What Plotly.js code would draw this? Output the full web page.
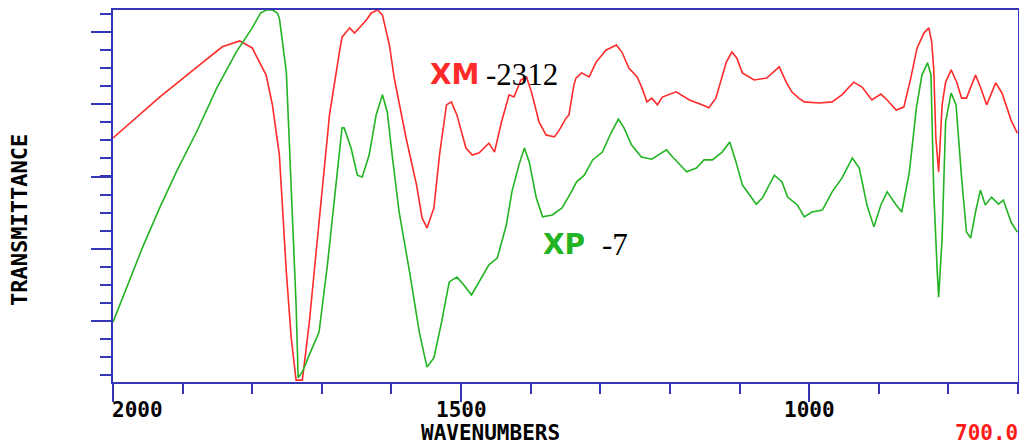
<!DOCTYPE html>
<html>
<head>
<meta charset="utf-8">
<script src="https://cdn.plot.ly/plotly-3.0.1.min.js"></script>
<style>
  html, body { margin: 0; padding: 0; background: #ffffff; }
  #chart { width: 1019px; height: 446px; }
</style>
</head>
<body>
<div id="chart"></div>
<script>
// IR spectra of two samples, wavenumber (cm-1) vs. relative transmittance (%)
const xmWavenumbers = [2000, 1933, 1876, 1843, 1818, 1800, 1780, 1771, 1761, 1757, 1751, 1744, 1737, 1728,
  1718, 1704, 1689, 1675, 1671, 1665, 1660, 1653, 1646, 1636, 1629, 1620, 1613, 1603, 1596, 1579, 1564,
  1556, 1549, 1539, 1531, 1521, 1514, 1506, 1493, 1484, 1474, 1460, 1452, 1442, 1431, 1424, 1414, 1406,
  1399, 1388, 1378, 1366, 1359, 1349, 1345, 1338, 1335, 1327, 1316, 1306, 1292, 1277, 1269, 1259, 1247,
  1240, 1233, 1226, 1218, 1211, 1191, 1172, 1154, 1144, 1134, 1119, 1111, 1104, 1096, 1079, 1061, 1043,
  1033, 1025, 1015, 1007, 986, 967, 953, 936, 924, 910, 897, 888, 875, 864, 854, 845, 835, 828, 824, 821,
  818, 814, 809, 804, 796, 788, 781, 774, 761, 754, 745, 732, 723, 710, 701];
const xmTransmittance = [65.6, 76.6, 85.2, 90.1, 91.7, 89.8, 82.5, 74.5, 61.0, 47.6, 29.6, 11.8, 0.5, 0.5,
  16.1, 43.0, 71.8, 88.4, 92.7, 94.1, 95.2, 93.8, 95.2, 97.3, 99.2, 100, 98.7, 90.6, 81.7, 65.6, 53.0,
  44.1, 41.4, 46.8, 61.0, 74.5, 75.3, 71.8, 62.9, 61.0, 61.6, 64.2, 61.8, 69.9, 77.2, 76.6, 81.2, 82.0,
  78.0, 69.9, 66.4, 65.9, 67.7, 71.0, 71.8, 79.8, 81.7, 83.1, 82.0, 86.0, 89.2, 90.6, 88.7, 84.4, 82.0,
  79.0, 75.3, 76.3, 74.5, 76.6, 78.0, 75.8, 74.5, 73.7, 76.3, 86.0, 88.7, 87.1, 83.1, 81.2, 81.7, 84.7,
  80.6, 78.0, 76.3, 75.3, 75.0, 75.3, 77.2, 80.6, 79.3, 75.8, 77.4, 75.8, 73.1, 73.9, 81.7, 89.8, 93.8,
  95.2, 91.4, 83.9, 65.6, 56.5, 74.5, 80.6, 83.9, 80.6, 76.3, 76.3, 82.5, 79.3, 74.5, 80.4, 77.7, 70.4,
  66.9];

const xpWavenumbers = [2000, 1986, 1958, 1933, 1909, 1880, 1851, 1823, 1800, 1788, 1780, 1771, 1764, 1761,
  1757, 1751, 1747,
  1742, 1737, 1734, 1728, 1718, 1704, 1692, 1679, 1671, 1668, 1658, 1649, 1642, 1632, 1622, 1613, 1606,
  1599, 1589, 1574, 1560, 1549, 1539, 1528, 1517, 1506, 1496, 1485, 1474, 1460, 1448, 1435, 1427, 1417,
  1409, 1402, 1392, 1383, 1369, 1355, 1344, 1334, 1323, 1311, 1297, 1284, 1274, 1266, 1255, 1241, 1226,
  1205, 1196, 1176, 1162, 1151, 1139, 1125, 1114, 1105, 1096, 1076, 1067, 1050, 1039, 1031, 1017, 1007,
  996, 981, 967, 953, 938, 928, 917, 907, 897, 888, 875, 867, 856, 846, 838, 830, 825, 821, 816, 814, 809,
  804, 796, 789, 781, 774, 768, 761, 754, 747, 738, 728, 721, 710, 701];
const xpTransmittance = [16.1, 22.6, 36.0, 46.8, 56.5, 67.2, 79.0, 88.7, 95.2, 99.2, 100, 100, 99.2, 97.8,
  92.5, 83.3, 65.6,
  43.0, 20.7, 1.1, 2.7, 7.3, 13.4, 31.5, 54.8, 68.3, 68.3, 62.9, 55.6, 55.1, 61.0, 71.8, 77.2, 72.6,
  61.0, 45.7, 29.6, 13.4, 4.0, 6.5, 16.1, 26.9, 28.2, 26.1, 23.4, 26.9, 31.5, 33.3, 42.2, 51.1, 58.3,
  62.9, 59.1, 49.5, 44.4, 44.9, 46.8, 50.3, 53.8, 55.6, 59.7, 61.8, 67.2, 70.7, 68.3, 63.7, 60.5, 59.9,
  62.4, 60.5, 56.5, 57.5, 59.7, 59.7, 61.8, 64.5, 59.1, 53.0, 47.8, 49.5, 55.6, 53.8, 49.7, 47.6, 44.4,
  45.7, 46.2, 51.1, 54.8, 60.2, 57.5, 47.6, 41.7, 47.6, 51.1, 47.6, 45.7, 56.5, 73.7, 82.5, 85.8, 82.5,
  51.1, 29.6, 22.8, 38.7, 69.9, 77.7, 74.5, 54.8, 40.3, 38.7, 45.7, 51.6, 47.6, 49.7, 47.8, 48.9, 43.0,
  40.3];

const sampleNames = ['XM', 'XP'];
const sampleCodes = ['-2312', '-7'];
const axisTickLabels = ['2000', '1500', '1000'];
const axisTickValues = [2000, 1500, 1000];
const rangeEndLabel = '700.0';

const AXIS_BLUE = '#3535b8';
const RED = '#ff2a2a';
const GREEN = '#22b422';
const MONO = 'DejaVu Sans Mono, monospace';

const traces = [
  { x: xmWavenumbers, y: xmTransmittance, type: 'scatter', mode: 'lines', name: sampleNames[0],
    line: { color: RED, width: 1.6 }, hoverinfo: 'x+y' },
  { x: xpWavenumbers, y: xpTransmittance, type: 'scatter', mode: 'lines', name: sampleNames[1],
    line: { color: GREEN, width: 1.6 }, hoverinfo: 'x+y' }
];

const annotations = [];
// bottom tick labels: the first sits flush with the left frame, the rest centred on their ticks
axisTickLabels.forEach((t, i) => {
  annotations.push({
    text: '<b>' + t + '</b>', x: axisTickValues[i], xref: 'x',
    xanchor: i === 0 ? 'left' : 'center', xshift: i === 0 ? -3 : 0,
    y: -0.075, yref: 'paper', yanchor: 'middle', showarrow: false,
    font: { family: MONO, size: 21, color: '#000' }
  });
});
annotations.push({
  text: '<b>WAVENUMBERS</b>', x: 0.417, xref: 'paper', xanchor: 'center',
  y: -0.172, yref: 'paper', yanchor: 'bottom', borderpad: 0, showarrow: false,
  font: { family: MONO, size: 21, color: '#000' }
});
annotations.push({
  text: '<b>' + rangeEndLabel + '</b>', x: 1.0, xref: 'paper', xanchor: 'right', xshift: 1,
  y: -0.172, yref: 'paper', yanchor: 'bottom', borderpad: 0, showarrow: false,
  font: { family: MONO, size: 21, color: '#ff1a1a' }
});
annotations.push({
  text: '<b>TRANSMITTANCE</b>', x: -0.104, xref: 'paper', xanchor: 'center',
  y: 0.435, yref: 'paper', yanchor: 'middle', textangle: -90, showarrow: false,
  font: { family: MONO, size: 22, color: '#000' }
});
// sample labels inside the plot
annotations.push({
  text: '<b>' + sampleNames[0] + '</b>', x: 0.348, xref: 'paper', xanchor: 'left',
  y: 0.826, yref: 'paper', yanchor: 'middle', showarrow: false,
  font: { family: 'DejaVu Sans, sans-serif', size: 28, color: RED }
});
annotations.push({
  text: sampleCodes[0], x: 0.410, xref: 'paper', xanchor: 'left',
  y: 0.826, yref: 'paper', yanchor: 'middle', showarrow: false,
  font: { family: 'Liberation Serif, serif', size: 31, color: '#000' }
});
annotations.push({
  text: '<b>' + sampleNames[1] + '</b>', x: 0.473, xref: 'paper', xanchor: 'left',
  y: 0.370, yref: 'paper', yanchor: 'middle', showarrow: false,
  font: { family: 'DejaVu Sans, sans-serif', size: 28, color: GREEN }
});
annotations.push({
  text: sampleCodes[1], x: 0.538, xref: 'paper', xanchor: 'left',
  y: 0.370, yref: 'paper', yanchor: 'middle', showarrow: false,
  font: { family: 'Liberation Serif, serif', size: 31, color: '#000' }
});

const layout = {
  width: 1019, height: 446,
  margin: { l: 113, r: 1, t: 10, b: 64 },
  paper_bgcolor: '#ffffff', plot_bgcolor: '#ffffff',
  showlegend: false,
  xaxis: {
    range: [2000, 700], showgrid: false, zeroline: false,
    showline: true, linecolor: AXIS_BLUE, linewidth: 2, mirror: true,
    ticks: 'outside', tickmode: 'linear', tick0: 2000, dtick: 500,
    ticklen: 18, tickwidth: 2, tickcolor: AXIS_BLUE, showticklabels: false,
    minor: { ticks: 'outside', tickmode: 'linear', tick0: 2000, dtick: 100, ticklen: 10, tickwidth: 2, tickcolor: AXIS_BLUE, showgrid: false }
  },
  yaxis: {
    range: [0, 100], showgrid: false, zeroline: false,
    showline: true, linecolor: AXIS_BLUE, linewidth: 2, mirror: true,
    ticks: 'outside', tickmode: 'linear', tick0: 16.4, dtick: 19.41,
    ticklen: 20, tickwidth: 2, tickcolor: AXIS_BLUE, showticklabels: false,
    minor: { ticks: 'outside', tickmode: 'linear', tick0: 1.88, dtick: 4.852, ticklen: 11, tickwidth: 2, tickcolor: AXIS_BLUE, showgrid: false }
  },
  annotations: annotations
};

Plotly.newPlot('chart', traces, layout, { displayModeBar: false, staticPlot: true });
</script>
</body>
</html>
